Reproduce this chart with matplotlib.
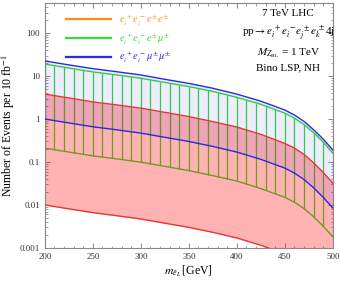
import numpy as np
import matplotlib
matplotlib.use('Agg')
import matplotlib.pyplot as plt

plt.rcParams['font.family'] = ['Liberation Serif', 'DejaVu Serif']
plt.rcParams['mathtext.fontset'] = 'stix'

# slepton mass [GeV]
mass = [200, 225, 250, 275, 300, 325, 350, 375, 400, 425, 450, 460, 470, 480, 490, 500]

# number of events per 10 fb^-1
mumu_hi = [22.5, 18.2, 14.9, 12.6, 10.6, 8.4, 6.75, 5.2, 3.8, 2.6, 1.62, 1.24, 0.88, 0.56, 0.34, 0.19]
mumu_lo = [1.0, 0.81, 0.66, 0.56, 0.47, 0.375, 0.30, 0.23, 0.17, 0.115, 0.072, 0.055, 0.039, 0.025, 0.015, 0.0085]
emu_hi = [19, 15.4, 12.5, 10.6, 8.9, 7.1, 5.7, 4.4, 3.2, 2.2, 1.37, 1.05, 0.74, 0.48, 0.29, 0.16]
emu_lo = [0.21, 0.17, 0.139, 0.118, 0.099, 0.079, 0.063, 0.048, 0.036, 0.024, 0.015, 0.0116, 0.0082, 0.0053, 0.0032, 0.0018]
ee_hi = [3.8, 3.1, 2.5, 2.13, 1.79, 1.43, 1.14, 0.87, 0.65, 0.44, 0.27, 0.21, 0.15, 0.095, 0.057, 0.032]
ee_lo = [0.01, 0.0081, 0.0066, 0.0056, 0.0047, 0.00375, 0.0030, 0.0023, 0.0017, 0.00115, 0.00072, 0.00055, 0.00039, 0.00025, 0.00015, 0.000085]

labels = [r'$e_i^{\,+}e_i^{\,-}e^{\pm}e^{\pm}$',
          r'$e_i^{\,+}e_i^{\,-}e^{\pm}\mu^{\pm}$',
          r'$e_i^{\,+}e_i^{\,-}\mu^{\pm}\mu^{\pm}$']

orange = '#ff8c1a'
green = '#33dd33'
blue = '#2a2ae0'
red = '#e83535'

fig = plt.figure(figsize=(3.4, 2.82), dpi=100)
ax = fig.add_axes([0.132, 0.121, 0.847, 0.868])

# e-mu band: vertical hatching between the green curves
hatch_x = np.arange(200, 500, 10)
ax.vlines(hatch_x, np.interp(hatch_x, mass, emu_lo), np.interp(hatch_x, mass, emu_hi),
          color=green, lw=0.9, zorder=1)
ax.plot(mass, emu_hi, color=green, lw=1.0, zorder=1)
ax.plot(mass, emu_lo, color=green, lw=1.0, zorder=1)

# e-e band
ax.fill_between(mass, ee_lo, ee_hi, color=(1, 0, 0), alpha=0.3, lw=0, zorder=2)
# mu-mu band
ax.fill_between(mass, mumu_lo, mumu_hi, color=(0, 0, 1), alpha=0.07, lw=0, zorder=3)

ax.plot(mass, ee_hi, color=red, lw=1.0, zorder=4)
ax.plot(mass, ee_lo, color=red, lw=1.0, zorder=4)
ax.plot(mass, mumu_hi, color=blue, lw=1.0, zorder=4)
ax.plot(mass, mumu_lo, color=blue, lw=1.0, zorder=4)

ax.set_yscale('log')
ax.set_xlim(200, 500)
ax.set_ylim(0.001, 500)
ax.set_xticks([200, 250, 300, 350, 400, 450, 500])
ax.set_xticks(np.arange(200, 501, 10), minor=True)
ax.set_yticks([0.001, 0.01, 0.1, 1, 10, 100])
ax.set_yticklabels(['0.001', '0.01', '0.1', '1', '10', '100'])
ax.tick_params(which='both', direction='in', top=True, right=True, colors='#777777',
               labelcolor='#333333', labelsize=6.5)
ax.tick_params(which='major', length=3.5, width=0.6)
ax.tick_params(which='minor', length=1.8, width=0.5)
for s in ax.spines.values():
    s.set_color('#888888')
    s.set_linewidth(0.8)

ax.set_xlabel(r'$m_{\tilde{e}_L}\,$[GeV]', fontsize=8.5, labelpad=2)
ax.set_ylabel(r'Number of Events per 10 fb$^{-1}$', fontsize=8.5, labelpad=2)

handles = [plt.Line2D([], [], color=c, lw=1.6) for c in (orange, green, blue)]
ax.legend(handles, labels, loc='upper left', bbox_to_anchor=(0.04, 1.0), frameon=False,
          handlelength=4.3, fontsize=7.5, labelspacing=0.35, labelcolor=[orange, green, blue],
          handletextpad=0.8)

ax.text(0.845, 0.975, '7 TeV LHC\n'
        r'pp$\rightarrow e_i^{\,+}e_i^{\,-}e_j^{\,\pm}e_k^{\,\pm}$4j' '\n'
        r'$M_{Z_{\rm BL}}$ = 1 TeV' '\n'
        'Bino LSP, NH',
        transform=ax.transAxes, ha='center', va='top', fontsize=8, linespacing=1.45)

fig.savefig('out.png', dpi=100)
